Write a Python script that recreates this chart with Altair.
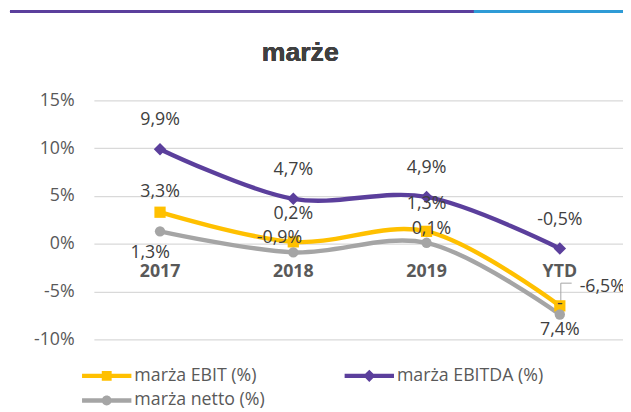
import altair as alt
import pandas as pd

categories = ["2017", "2018", "2019", "YTD"]
series = ["marża EBIT (%)", "marża EBITDA (%)", "marża netto (%)"]
ebit = [3.3, 0.2, 1.3, -6.5]
ebitda = [9.9, 4.7, 4.9, -0.5]
netto = [1.3, -0.9, 0.1, -7.4]
y_ticks = [-10, -5, 0, 5, 10, 15]
colors = ["#FFC000", "#5B3F9C", "#A5A5A5"]
title_text = "marże"

FONT = "Open Sans"

rows = []
for s, vals in zip(series, [ebit, ebitda, netto]):
    for c, v in zip(categories, vals):
        rows.append({"kat": c, "seria": s, "v": v,
                     "label": f"{v:.1f}%".replace(".", ",")})
df = pd.DataFrame(rows)
cat_df = pd.DataFrame({"kat": categories})

W, H = 536, 242
xs = alt.X("kat:N", sort=categories, axis=None,
           scale=alt.Scale(type="point", domain=categories, padding=0.4852, align=0.5115))
ys = alt.Y("v:Q", scale=alt.Scale(domain=[-10, 15], nice=False, zero=False),
           axis=alt.Axis(values=y_ticks, title=None, domain=False, ticks=False,
                         labelExpr="datum.value + '%'", labelFontSize=18,
                         labelColor="#595959", labelFont=FONT, labelPadding=20,
                         gridColor="#D9D9D9", gridWidth=1.3))

base = alt.Chart(df)


def sel(i):
    return base.transform_filter(alt.datum.seria == series[i])


lines = [sel(i).mark_line(interpolate="catmull-rom", strokeWidth=4.5, color=colors[i])
         .encode(x=xs, y=ys) for i in range(3)]

pt_ebit = sel(0).mark_point(shape="square", filled=True, size=130, opacity=1,
                            color=colors[0]).encode(x=xs, y="v:Q")
pt_ebitda = sel(1).mark_point(shape="diamond", filled=True, size=160, opacity=1,
                              color=colors[1]).encode(x=xs, y="v:Q")
pt_netto = sel(2).mark_point(shape="circle", filled=True, size=110, opacity=1,
                             color=colors[2]).encode(x=xs, y="v:Q")

# legend carrier (invisible points, custom line+marker symbols, unit = 10px)
bar = "M-2.5,-0.22L2.5,-0.22L2.5,0.22L-2.5,0.22Z "
p_sq = bar + "M-0.5,-0.5L0.5,-0.5L0.5,0.5L-0.5,0.5Z"
p_di = bar + "M-0.62,0L0,-0.62L0.62,0L0,0.62Z"
p_ci = bar + "M-0.5,0A0.5,0.5 0 1,1 0.5,0A0.5,0.5 0 1,1 -0.5,0Z"
legend_def = alt.Legend(orient="none", legendX=3, legendY=269,
                        direction="horizontal", columns=2,
                        columnPadding=80, rowPadding=6,
                        symbolSize=400, symbolOpacity=1,
                        symbolStrokeWidth=0, labelFontSize=18,
                        labelColor="#595959", labelFont=FONT,
                        labelOffset=18, title=None)
leg = base.mark_point(filled=True, opacity=0).encode(
    x=xs, y="v:Q",
    color=alt.Color("seria:N", scale=alt.Scale(domain=series, range=colors),
                    legend=legend_def),
    shape=alt.Shape("seria:N", scale=alt.Scale(domain=series, range=[p_sq, p_di, p_ci]),
                    legend=legend_def),
)

txt_style = dict(fontSize=18, color="#404040", font=FONT, baseline="middle")


def lab(cond, **kw):
    return base.transform_filter(cond).mark_text(**txt_style, **kw).encode(
        x=xs, y="v:Q", text="label:N")


S, K = alt.datum.seria, alt.datum.kat
lab_ebitda = lab(S == series[1], dy=-29)
lab_ebit_2017 = lab((S == series[0]) & (K == "2017"), dy=-20)
lab_ebit_mid = lab((S == series[0]) & ((K == "2018") | (K == "2019")), dy=-28)
lab_ebit_ytd = lab((S == series[0]) & (K == "YTD"), dx=43, dy=-19)
lab_netto_2017 = lab((S == series[2]) & (K == "2017"), dx=-10, dy=22)
lab_netto_2018 = lab((S == series[2]) & (K == "2018"), dx=-14, dy=-14)
lab_netto_2019 = lab((S == series[2]) & (K == "2019"), dx=5, dy=-14)
lab_netto_ytd = base.transform_filter((S == series[2]) & (K == "YTD")).transform_calculate(
    l2="split(replace(datum.label, '-', '-|'), '|')").mark_text(
    dy=-11, lineHeight=27, **txt_style).encode(x=xs, y="v:Q", text="l2:N")

# leader line for the shifted YTD EBIT label
ytd_ebit = base.transform_filter((S == series[0]) & (K == "YTD"))
lead_v = ytd_ebit.mark_rule(color="#A5A5A5", strokeWidth=1, yOffset=-23, y2Offset=-5,
                            xOffset=1, x2Offset=1).encode(
    x=xs, y="v:Q", y2="v:Q")
lead_h = ytd_ebit.mark_rule(color="#A5A5A5", strokeWidth=1, xOffset=1, x2Offset=12,
                            yOffset=-23, y2Offset=-23).encode(
    x=xs, x2="kat:N", y="v:Q")

cat_labels = alt.Chart(cat_df).mark_text(
    dy=29, fontSize=18, fontWeight="bold", color="#595959", font=FONT,
    baseline="middle").encode(x=xs, y=alt.datum(0), text="kat:N")

title = alt.Chart(cat_df).mark_text(
    fontSize=27, fontWeight="bold", color="#404040", font="Liberation Sans",
    baseline="alphabetic").encode(x=alt.value(209), y=alt.value(-40),
                                  text=alt.value(title_text))

top_purple = alt.Chart(cat_df).mark_rule(color="#5B3F9C", strokeWidth=2.5).encode(
    x=alt.value(-85), x2=alt.value(385), y=alt.value(-90))
top_blue = alt.Chart(cat_df).mark_rule(color="#2E9BD6", strokeWidth=2.5).encode(
    x=alt.value(385), x2=alt.value(545), y=alt.value(-90))

chart = alt.layer(
    top_purple, top_blue, title, *lines, lead_v, lead_h, pt_ebit, pt_ebitda, pt_netto, leg,
    cat_labels, lab_ebitda, lab_ebit_2017, lab_ebit_mid, lab_ebit_ytd,
    lab_netto_2017, lab_netto_2018, lab_netto_2019, lab_netto_ytd,
).properties(
    width=W, height=H,
    autosize=alt.AutoSizeParams(type="none"),
    padding={"left": 87, "top": 91, "right": 0, "bottom": 70},
).configure_view(stroke=None)

chart.save("out.html", embed_options={"renderer": "svg", "actions": False})
